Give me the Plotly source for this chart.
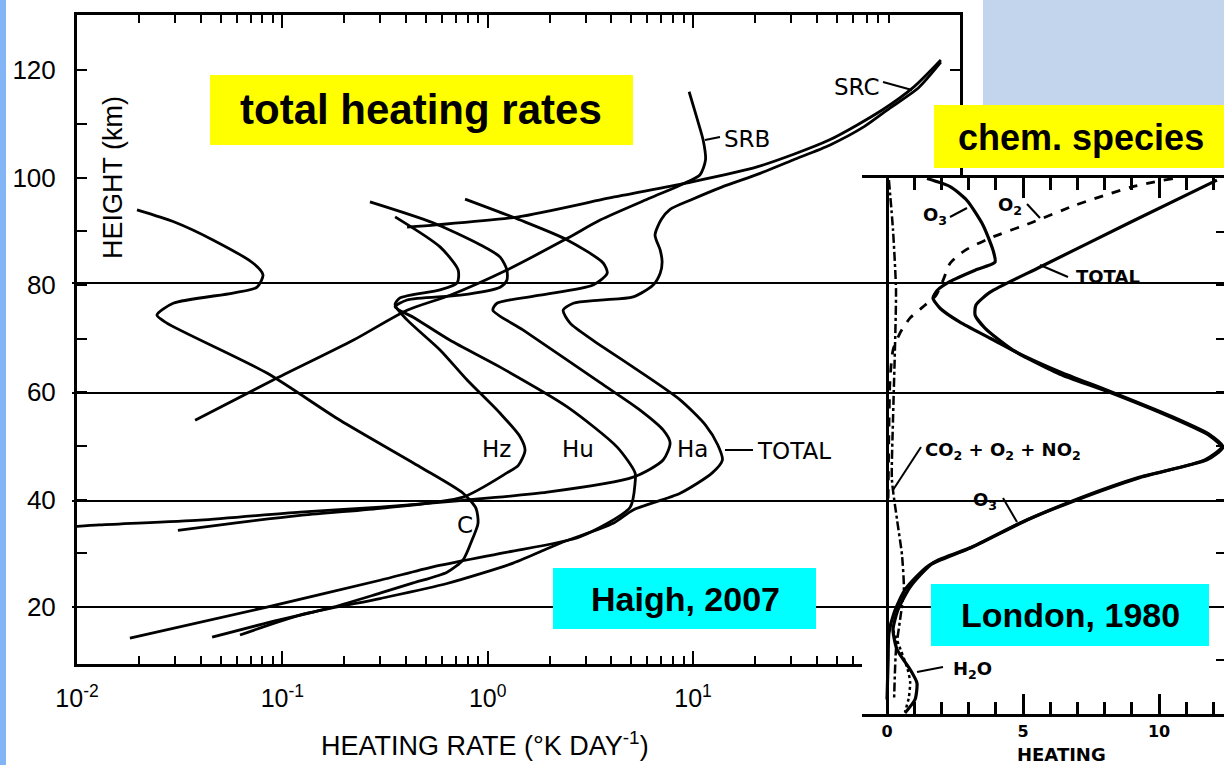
import plotly.graph_objects as go

W, H = 1224, 765

# ---------------- Left panel (Haigh 2007): heating rate (K/day) vs height (km)
total_x = [161, 125, 91.2, 68.1, 46.5, 30.7, 21.2, 13.7, 9.68, 7.73, 7.0, 6.53, 6.92, 7.07, 6.92, 6.39, 5.11, 3.53, 2.61, 2.33,
           2.52, 3.26, 5.11, 8.65, 11.5, 13.2, 13.9, 12.4, 8.65, 5.11, 4.08, 2.25, 1.33, 0.634, 0.299, 0.122, 0.0622]
total_h = [121.5, 116.7, 113.0, 109.5, 106.1, 103.3, 100.8, 98.2, 95.8, 94.1, 92.2, 89.3, 86.5, 84.3, 82.2, 80.0, 77.8, 77.2, 76.6, 75.3,
           72.9, 69.7, 64.7, 58.6, 53.9, 50.2, 47.4, 45.0, 41.2, 38.1, 35.6, 31.9, 28.2, 24.4, 21.6, 18.5, 14.8]

ha_x = [0.776, 1.44, 2.44, 3.65, 3.82, 3.26, 1.80, 1.11, 1.06, 1.49, 3.53, 5.52, 7.15, 7.73, 7.15, 5.11, 1.95, 0.759, 0.299,
        0.122, 0.0397, 0.0129, 0.0074]
ha_h = [96.0, 92.1, 88.4, 84.1, 82.2, 80.0, 78.1, 76.6, 75.3, 71.6, 61.8, 56.7, 53.0, 50.6, 47.4, 44.2, 41.4, 39.9, 38.6,
        37.7, 36.2, 35.3, 34.7]

hz_x = [0.354, 0.586, 0.718, 0.71, 0.586, 0.374, 0.354, 0.405, 0.586, 0.794, 1.15, 1.44, 1.52, 1.41, 1.24, 0.759, 0.299,
        0.122, 0.0622, 0.031]
hz_h = [92.7, 87.1, 82.8, 80.4, 79.1, 77.6, 76.3, 73.5, 67.9, 62.3, 56.1, 51.7, 49.2, 46.4, 45.0, 40.5, 38.4,
        37.1, 35.8, 34.3]

hu_x = [0.267, 0.542, 0.918, 1.15, 1.24, 1.24, 1.15, 0.735, 0.405, 0.354, 0.434, 0.656, 1.15, 2.44, 4.27, 5.22, 5.22, 4.94,
        2.82, 1.19, 0.542, 0.299, 0.0841, 0.0181]
hu_h = [95.5, 91.6, 87.5, 85.2, 82.8, 80.9, 79.6, 78.1, 77.2, 75.9, 74.0, 69.7, 64.7, 57.3, 49.8, 45.0, 43.1, 38.6,
        33.1, 30.1, 27.5, 25.0, 20.0, 14.2]

c_x = [0.0196, 0.030, 0.0459, 0.0719, 0.0805, 0.0753, 0.0575, 0.0294, 0.0245, 0.0274, 0.0841, 0.191, 0.469, 0.759, 0.877,
       0.897, 0.839, 0.759, 0.634, 0.434, 0.299, 0.177, 0.0871, 0.0455]
c_h = [94.0, 91.7, 88.4, 84.1, 81.9, 79.6, 78.5, 76.6, 74.4, 72.9, 63.6, 54.8, 46.1, 41.2, 38.4,
       35.6, 32.5, 28.8, 26.5, 24.5, 22.6, 20.0, 17.2, 14.4]

srb_x = [9.57, 10.5, 11.2, 11.5, 10.8, 8.65, 6.18, 3.53, 2.44, 1.24, 0.656, 0.405, 0.221, 0.0902, 0.0376]
srb_h = [116.0, 110.8, 107.0, 103.3, 100.5, 98.6, 96.2, 92.1, 88.7, 82.8, 78.1, 75.3, 69.7, 62.3, 54.8]

src_x = [161, 119, 83.4, 46.0, 20.5, 9.25, 4.13, 1.41, 0.561, 0.405]
src_h = [121.9, 116.9, 112.6, 107.0, 102.0, 99.0, 96.4, 92.7, 91.2, 90.8]

x_tickvals = [0.01, 0.1, 1, 10]
x_ticktext = ["10<sup>-2</sup>", "10<sup>-1</sup>", "10<sup>0</sup>", "10<sup>1</sup>"]
y_tickvals = [20, 40, 60, 80, 100, 120]

# ---------------- Right panel (London 1980): heating by chemical species
tot2_x = [12.13, 8.93, 5.63, 3.79, 3.27, 3.24, 3.60, 4.63, 6.36, 8.09, 10.51, 11.87, 12.35, 11.76, 9.30, 7.10, 5.15, 3.16,
          1.69, 0.85, 0.40, 0.22, 0.37, 0.85, 1.10, 1.03, 0.66]
tot2_h = [99.6, 91.7, 83.4, 78.7, 76.3, 74.4, 72.0, 67.9, 63.8, 60.4, 55.4, 52.1, 49.8, 47.4, 44.2, 40.3, 36.2, 31.2,
          28.2, 23.7, 19.4, 15.7, 12.0, 8.3, 5.8, 2.7, 0.2]

o3_x = [1.47, 2.32, 2.94, 3.53, 3.90, 3.97, 3.24, 2.32, 1.84, 1.69, 1.95, 2.68, 3.79, 5.15, 6.36, 8.09, 10.51, 11.87, 12.3,
        11.69, 9.23, 6.95, 4.96, 2.98, 1.51, 0.66, 0.26, 0.07, 0.04, 0.0]
o3_h = [99.9, 98.4, 95.8, 91.2, 86.5, 84.3, 82.8, 80.7, 79.0, 77.6, 75.7, 73.1, 70.1, 66.4, 63.4, 60.2, 55.2, 51.9, 49.8,
        47.4, 44.0, 39.9, 35.8, 30.8, 27.6, 23.2, 18.9, 15.1, 10.1, 2.7]

o2_x = [10.51, 9.04, 6.91, 5.33, 3.79, 2.87, 2.32, 2.06, 1.80, 1.40, 0.85, 0.48, 0.22, 0.11, 0.07, 0.04]
o2_h = [99.9, 98.4, 94.9, 91.7, 88.8, 86.5, 84.1, 80.9, 78.1, 76.3, 73.9, 71.1, 67.9, 62.3, 53.0, 40.0]

co2_x = [0.07, 0.22, 0.33, 0.29, 0.22, 0.18, 0.37, 0.55, 0.62, 0.48, 0.33, 0.26]
co2_h = [99.6, 90.3, 79.1, 67.9, 54.9, 43.7, 36.2, 29.7, 23.2, 17.6, 12.0, 2.7]

h2o_x = [0.22, 0.50, 0.75, 0.85, 0.80, 0.66]
h2o_h = [15.7, 12.0, 8.5, 6.0, 3.0, 0.4]

x2_tickvals = [0, 5, 10]
x2_minor = [1, 2, 3, 4, 6, 7, 8, 9, 11, 12]


def px(x):
    return x / W


def py(y):
    return 1 - y / H


fig = go.Figure()

main_line = dict(color="black", width=2.8, shape="spline", smoothing=0.7)
for xs, hs in [(total_x, total_h), (ha_x, ha_h), (hz_x, hz_h), (hu_x, hu_h), (c_x, c_h), (srb_x, srb_h), (src_x, src_h)]:
    fig.add_trace(go.Scatter(x=xs, y=hs, mode="lines", line=main_line, xaxis="x", yaxis="y",
                             hoverinfo="skip", showlegend=False))

fig.add_trace(go.Scatter(x=co2_x, y=co2_h, mode="lines", xaxis="x2", yaxis="y2", showlegend=False, hoverinfo="skip",
                         line=dict(color="black", width=2.5, dash="dashdot", shape="spline", smoothing=0.6)))
fig.add_trace(go.Scatter(x=h2o_x, y=h2o_h, mode="lines", xaxis="x2", yaxis="y2", showlegend=False, hoverinfo="skip",
                         line=dict(color="black", width=2.5, dash="dot", shape="spline", smoothing=0.6)))
fig.add_trace(go.Scatter(x=o2_x, y=o2_h, mode="lines", xaxis="x2", yaxis="y2", showlegend=False, hoverinfo="skip",
                         line=dict(color="black", width=2.8, dash="dash", shape="spline", smoothing=0.6)))
fig.add_trace(go.Scatter(x=o3_x, y=o3_h, mode="lines", xaxis="x2", yaxis="y2", showlegend=False, hoverinfo="skip",
                         line=dict(color="black", width=3.2, shape="spline", smoothing=0.6)))
fig.add_trace(go.Scatter(x=tot2_x, y=tot2_h, mode="lines", xaxis="x2", yaxis="y2", showlegend=False, hoverinfo="skip",
                         line=dict(color="black", width=3.2, shape="spline", smoothing=0.6)))

shapes = []
# background decorations
shapes.append(dict(type="rect", xref="paper", yref="paper", x0=0, x1=px(6), y0=0, y1=1,
                   fillcolor="#82B4F6", line_width=0, layer="below"))
shapes.append(dict(type="rect", xref="paper", yref="paper", x0=px(983), x1=1, y0=py(105), y1=1,
                   fillcolor="#C2D5EC", line_width=0, layer="below"))
# white sheet of the pasted right panel (covers the left panel behind it)
shapes.append(dict(type="rect", xref="x2", yref="y2", x0=-0.92, x1=12.39, y0=0, y1=100,
                   fillcolor="white", line_width=0, layer="below"))
# slide guide lines
for yy in [283, 393, 501, 607]:
    shapes.append(dict(type="line", xref="paper", yref="paper", x0=px(72), x1=1, y0=py(yy), y1=py(yy),
                       line=dict(color="black", width=2), layer="above"))
# leader lines
leaders = [((883, 82), (912, 90)), ((705, 140), (720, 137)), ((725, 450), (753, 450)),
           ((950, 217), (967, 208)), ((1027, 204), (1040, 218)), ((1040, 265), (1068, 277)),
           ((893, 490), (921, 447)), ((1003, 498), (1017, 522)), ((917, 672), (943, 667))]
for (xa, ya), (xb, yb) in leaders:
    shapes.append(dict(type="line", xref="paper", yref="paper", x0=px(xa), x1=px(xb), y0=py(ya), y1=py(yb),
                       line=dict(color="black", width=2), layer="above"))
# highlight boxes
boxes = [(210, 633, 75, 145, "#FFFF00"), (934, 1224, 105, 168, "#FFFF00"),
         (553, 816, 568, 629, "#00FFFF"), (931, 1209, 584, 646, "#00FFFF")]
for x0, x1, y0, y1, col in boxes:
    shapes.append(dict(type="rect", xref="paper", yref="paper", x0=px(x0), x1=px(x1), y0=py(y1), y1=py(y0),
                       fillcolor=col, line_width=0, layer="above"))

annotations = []


def note(text, x, y, size, family="DejaVu Sans", bold=False, angle=0):
    t = f"<b>{text}</b>" if bold else text
    annotations.append(dict(text=t, x=px(x), y=py(y), xref="paper", yref="paper", showarrow=False,
                            xanchor="center", yanchor="middle", textangle=angle,
                            font=dict(family=family, size=size, color="black")))


note("total heating rates", 421, 110, 42, "Liberation Sans", True)
note("chem. species", 1081, 137, 36, "Liberation Sans", True)
note("Haigh, 2007", 685, 599, 34, "Liberation Sans", True)
note("London, 1980", 1070, 615, 34, "Liberation Sans", True)

note("SRC", 857, 87, 23)
note("SRB", 747, 139, 23)
note("Hz", 496, 449, 23)
note("Hu", 578, 449, 23)
note("Ha", 692, 449, 23)
note("TOTAL", 794, 451, 23)
note("C", 465, 525, 23)

note("HEIGHT (km)", 113, 178, 27, "Liberation Sans", angle=-90)
note("HEATING RATE (°K DAY<sup>-1</sup>)", 485, 744, 27, "Liberation Sans")

note("O<sub>3</sub>", 935, 216, 18, bold=True)
note("O<sub>2</sub>", 1010, 206, 18, bold=True)
note("TOTAL", 1108, 276, 18, bold=True)
note("CO<sub>2</sub> + O<sub>2</sub> + NO<sub>2</sub>", 1003, 451, 18, bold=True)
note("O<sub>3</sub>", 985, 501, 18, bold=True)
note("H<sub>2</sub>O", 973, 670, 18, bold=True)
note("HEATING", 1061, 754, 18, bold=True)

fig.update_layout(
    width=W, height=H, margin=dict(l=0, r=0, t=0, b=0, pad=0),
    paper_bgcolor="white", plot_bgcolor="white", showlegend=False,
    shapes=shapes, annotations=annotations,
    xaxis=dict(type="log", range=[-2, 2.30], domain=[px(77), px(960)], anchor="y", automargin=False,
               showline=True, linecolor="black", linewidth=3, mirror="ticks",
               ticks="inside", ticklen=13, tickwidth=2, tickcolor="black",
               tickmode="array", tickvals=x_tickvals, ticktext=x_ticktext,
               tickfont=dict(family="Liberation Sans", size=25, color="black"), ticklabelstandoff=10,
               minor=dict(ticks="inside", ticklen=8, tickwidth=2, tickcolor="black", showgrid=False,
                          tickvals=[m * d for d in [0.01, 0.1, 1, 10, 100] for m in range(2, 10) if m * d < 199]),
               showgrid=False, zeroline=False),
    yaxis=dict(range=[9.4, 130.3], domain=[py(664), py(15)], anchor="x", automargin=False,
               showline=True, linecolor="black", linewidth=3, mirror="ticks",
               ticks="inside", ticklen=10, tickwidth=2, tickcolor="black",
               tickmode="array", tickvals=y_tickvals,
               tickfont=dict(family="Liberation Sans", size=26, color="black"), ticklabelstandoff=13,
               minor=dict(ticks="inside", ticklen=10, tickwidth=2, tickcolor="black", showgrid=False,
                          tickvals=[30, 50, 70, 90, 110]),
               showgrid=False, zeroline=False),
    xaxis2=dict(range=[-0.92, 12.39], domain=[px(862), 1], anchor="y2", automargin=False,
                showline=True, linecolor="black", linewidth=3, mirror="ticks",
                ticks="inside", ticklen=20, tickwidth=2.5, tickcolor="black",
                tickmode="array", tickvals=x2_tickvals,
                tickfont=dict(family="DejaVu Sans", size=16, color="black", weight="bold"), ticklabelstandoff=1,
                minor=dict(ticks="inside", ticklen=12, tickwidth=2.5, tickcolor="black", showgrid=False,
                           tickvals=x2_minor),
                zeroline=True, zerolinecolor="black", zerolinewidth=3, showgrid=False),
    yaxis2=dict(range=[0, 100], domain=[py(714), py(178)], anchor="x2", side="right", automargin=False,
                showline=False, ticks="inside", ticklen=8, tickwidth=2, tickcolor="black",
                tickmode="array", tickvals=list(range(10, 100, 10)), showticklabels=False,
                showgrid=False, zeroline=False),
)

fig.write_html("out.html", config={"displayModeBar": False},
               post_script="document.body.style.margin='0px';document.body.style.overflow='hidden';")
